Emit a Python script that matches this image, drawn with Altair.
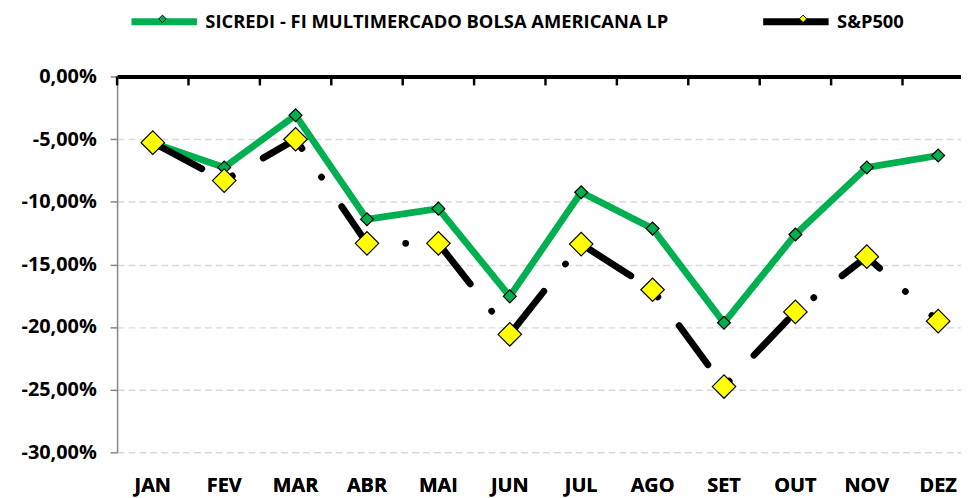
import altair as alt
import pandas as pd

months = ["JAN", "FEV", "MAR", "ABR", "MAI", "JUN", "JUL", "AGO", "SET", "OUT", "NOV", "DEZ"]
sicredi = [-5.30, -7.26, -3.09, -11.40, -10.55, -17.55, -9.24, -12.14, -19.66, -12.61, -7.26, -6.31]
sp500 = [-5.28, -8.31, -5.01, -13.32, -13.32, -20.58, -13.38, -17.02, -24.75, -18.79, -14.38, -19.53]
series_names = ["SICREDI - FI MULTIMERCADO BOLSA AMERICANA LP", "S&P500"]
y_ticks = [0, -5, -10, -15, -20, -25, -30]

# separate (distinct) domains per channel so that Vega-Lite does not merge the legends
fill_names = [n + " " for n in series_names]
dash_names = [n + "  " for n in series_names]
size_names = [n + "   " for n in series_names]

rows = []
for k, (name, vals) in enumerate(zip(series_names, [sicredi, sp500])):
    for i, (m, v) in enumerate(zip(months, vals)):
        rows.append({"mes": m, "idx": i, "serie": name, "serie_f": fill_names[k],
                     "serie_d": dash_names[k], "serie_s": size_names[k], "valor": v})
df = pd.DataFrame(rows)
df_months = pd.DataFrame({"mes": months})

FONT = "Open Sans"

xscale = alt.Scale(type="band", domain=months, range=[0, 864], paddingInner=0, paddingOuter=0)

x = alt.X(
    "mes:N", sort=months, scale=xscale,
    axis=alt.Axis(title=None, labelAngle=0, domain=False, ticks=False, labelPadding=24,
                  labelFontSize=20, labelFont=FONT, labelFontWeight="bold",
                  labelColor="black", grid=False, orient="bottom"),
)
y = alt.Y(
    "valor:Q",
    scale=alt.Scale(domain=[-30, 0], nice=False, zero=False),
    axis=alt.Axis(
        title=None, values=y_ticks,
        labelExpr="replace(replace(format(datum.value, '.2f'), '.', ','), '\u2212', '-') + '%'",
        labelFont=FONT, labelFontSize=20, labelFontWeight="bold", labelColor="black",
        labelPadding=14, tickSize=7, tickColor="#868686", tickWidth=1.5,
        domainColor="#868686", domainWidth=1.5,
        grid=True, gridColor="#D9D9D9", gridDash=[7, 4], gridWidth=1.5,
    ),
)

LX = 11
LY = -92
LO = 5
CP = 80
LFS = 18.5

lines = alt.Chart(df).mark_line(strokeWidth=6.8, strokeCap="round", strokeJoin="round",
                                strokeDashOffset=113).encode(
    x=x, y=y,
    order=alt.Order("idx:Q"),
    color=alt.Color(
        "serie:N", sort=series_names,
        scale=alt.Scale(domain=series_names, range=["#00B050", "#000000"]),
        legend=alt.Legend(title=None, orient="none", legendX=LX, legendY=LY,
                          direction="horizontal", symbolType="stroke", symbolSize=4356,
                          symbolStrokeWidth=7, labelFont=FONT, labelFontSize=LFS,
                          labelFontWeight="bold", labelColor="black", labelOffset=LO,
                          columnPadding=CP, padding=0, labelLimit=700, zindex=1),
    ),
    strokeDash=alt.StrokeDash(
        "serie_d:N", sort=dash_names,
        scale=alt.Scale(domain=dash_names, range=[[1, 0], [49, 35, 0.01, 36]]),
        legend=None,
    ),
)

points = alt.Chart(df).mark_point(shape="diamond", filled=True, stroke="black",
                                  strokeWidth=1.2, opacity=1).encode(
    x=x, y=y,
    fill=alt.Fill(
        "serie_f:N", sort=fill_names,
        scale=alt.Scale(domain=fill_names, range=["#00B050", "#FFFF00"]),
        legend=alt.Legend(title=None, orient="none", legendX=LX + 25.5, legendY=LY + 24.5,
                          direction="horizontal", symbolType="diamond", symbolSize=56,
                          symbolStrokeColor="black", symbolStrokeWidth=1,
                          labelExpr="''", labelFontSize=LFS, labelOffset=LO,
                          columnPadding=622, padding=0, zindex=2),
    ),
    size=alt.Size("serie_s:N", sort=size_names,
                  scale=alt.Scale(domain=size_names, range=[170, 560]), legend=None),
)

top_ticks = alt.Chart(df_months).mark_rule(color="black", strokeWidth=2.5).encode(
    x=alt.X("mes:N", sort=months, scale=xscale, bandPosition=0,
            axis=alt.Axis(title=None, orient="top", labels=False, ticks=False,
                          domain=True, domainColor="black", domainWidth=4, grid=False)),
    y=alt.value(0),
    y2=alt.value(9),
)

chart = (lines + points + top_ticks).properties(
    width=851, height=379,
    autosize=alt.AutoSizeParams(type="none"),
    padding={"left": 110, "top": 67, "right": 0, "bottom": 44},
).configure_view(stroke=None).resolve_axis(x="independent")

chart.save("out.html", embed_options={"renderer": "svg", "actions": False})
